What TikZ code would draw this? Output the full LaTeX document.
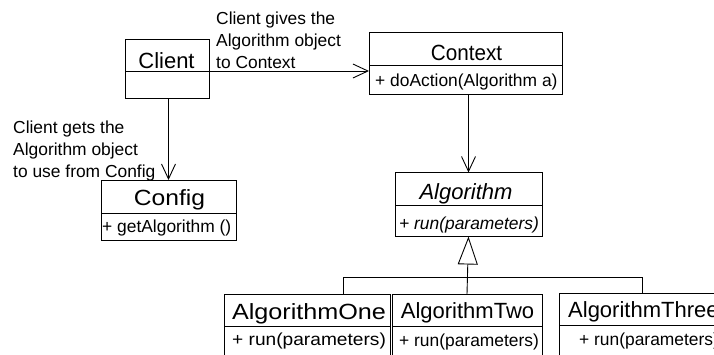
\documentclass[tikz,border=0pt]{standalone}
\usepackage{fontspec}
\setmainfont{Liberation Sans}
\usetikzlibrary{arrows.meta,calc}

\tikzset{
  box/.style={draw, line width=0.9pt, inner sep=0pt, outer sep=0pt},
  clsname/.style={font=\fontsize{22}{26}\selectfont, inner sep=0pt, anchor=base},
  member/.style={font=\fontsize{17.4}{21}\selectfont, inner sep=0pt, anchor=base west},
  note/.style={font=\fontsize{17.4}{21.6}\selectfont, align=left, inner sep=0pt, anchor=base west},
  wire/.style={line width=0.9pt},
  link/.style={wire, -{Straight Barb[length=15pt, width=14pt, line width=0.9pt]}},
  inherit/.style={wire, -{Triangle[open, length=28pt, width=20pt, line width=0.9pt]}}
}

\begin{document}
\begin{tikzpicture}[x=1pt, y=-1pt]
\clip (0,0) rectangle (714,354);

% Client
\node[box, minimum width=84, minimum height=32] (client) at (167,55) {};
\node[box, minimum width=84, minimum height=27, anchor=north] (clientb) at (client.south) {};
\node[clsname] (clientname) at (166.5,68) {Client};

% Context
\node[box, minimum width=193, minimum height=33] (ctx) at (465.5,48.5) {};
\node[box, minimum width=193, minimum height=29, anchor=north] (ctxb) at (ctx.south) {};
\node[clsname] (ctxname) at (466.5,60) {\scalebox{0.94}[1]{Context}};
\node[member] (ctxop) at (375,86) {+ doAction(Algorithm a)};

% Config
\node[box, minimum width=135, minimum height=33] (cfg) at (168.5,196.5) {};
\node[box, minimum width=135, minimum height=27, anchor=north] (cfgb) at (cfg.south) {};
\node[clsname] (cfgname) at (169.5,205) {\scalebox{1.12}[1]{Config}};
\node[member] (cfgop) at (102,232) {+ getAlgorithm ()};

% Algorithm (abstract)
\node[box, minimum width=147, minimum height=33] (alg) at (468.5,189) {};
\node[box, minimum width=147, minimum height=31, anchor=north] (algb) at (alg.south) {};
\node[clsname] (algname) at (466,199) {\itshape Algorithm};
\node[member] (algop) at (399,229) {\itshape + run(parameters)};

% Concrete algorithms
\node[box, minimum width=166, minimum height=32] (algone) at (307,310) {};
\node[box, minimum width=166, minimum height=40, anchor=north] (algoneb) at (algone.south) {};
\node[clsname] (algonename) at (309,319) {\scalebox{1.145}[1]{AlgorithmOne}};
\node[member] (algoneop) at (232,345.5) {\scalebox{1.1}[1]{+ run(parameters)}};

\node[box, minimum width=150, minimum height=32] (algtwo) at (467,310) {};
\node[box, minimum width=150, minimum height=40, anchor=north] (algtwob) at (algtwo.south) {};
\node[clsname] (algtwoname) at (467.5,318) {AlgorithmTwo};
\node[member] (algtwoop) at (399,346) {+ run(parameters)};

\node[box, minimum width=166, minimum height=32] (algthree) at (642,309) {};
\node[box, minimum width=166, minimum height=40, anchor=north] (algthreeb) at (algthree.south) {};
\node[clsname, anchor=base west] (algthreename) at (568,317) {AlgorithmThree};
\node[member] (algthreeop) at (579,345) {+ run(parameters)};

% Notes on the associations (base anchor sits on the last line)
\node[note] (givesnote) at (216,68) {Client gives the\\Algorithm object\\to Context};
\node[note] (getsnote) at (13,177) {Client gets the\\Algorithm object\\to use from Config};

% Associations
\draw[link] (client.south east) -- (client.south east -| ctxb.west);
\draw[link] (clientb.south -| cfg.north) -- (cfg.north);
\draw[link] (alg.north |- ctxb.south) -- (alg.north);

% Generalization
\coordinate (joinone) at (343,277);
\coordinate (jointhree) at (642,277);
\draw[inherit] (algtwo.north) -- (algb.south);
\draw[wire] (joinone |- algone.north) -- (joinone) -- (jointhree) -- (algthree.north);
\end{tikzpicture}
\end{document}
